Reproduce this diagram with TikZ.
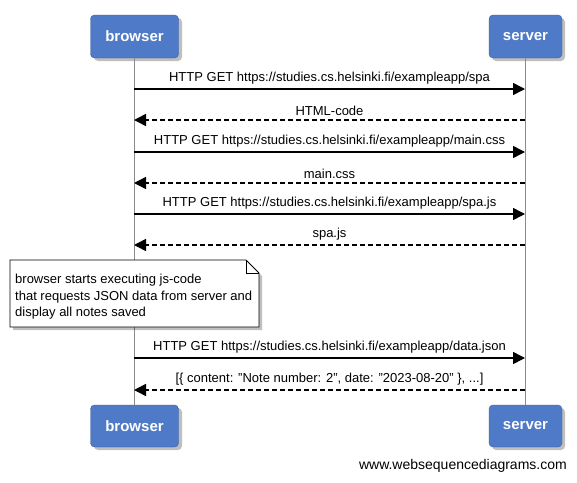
\documentclass[tikz,border=0pt]{standalone}
\usepackage{fontspec}
\setmainfont{Liberation Sans}
\usetikzlibrary{arrows.meta}

\definecolor{actorblue}{RGB}{79,122,199}
\definecolor{actorline}{RGB}{60,95,160}
\definecolor{lifegray}{RGB}{140,140,140}

\begin{document}
\begin{tikzpicture}[x=1pt, y=-1pt,
  actor/.style={rectangle, draw=actorline, fill=actorblue, rounded corners=4pt,
                minimum width=88pt, minimum height=43pt, text=white,
                font=\fontsize{15}{17}\selectfont\bfseries, inner sep=0pt},
  shade/.style={fill=black, opacity=0.25, rounded corners=4pt},
  life/.style={draw=lifegray, line width=1.6pt},
  req/.style={-{Triangle[length=12pt, width=12pt]}, line width=1.5pt, black},
  resp/.style={-{Triangle[length=12pt, width=12pt]}, line width=1.5pt, black, dash pattern=on 5pt off 3pt},
  lbl/.style={font=\fontsize{13}{15}\selectfont, above=3pt, inner sep=1pt},
  notetext/.style={font=\fontsize{13}{16.5}\selectfont, align=left, anchor=north west, inner sep=0pt}
]
\useasboundingbox[fill=white] (0,0) rectangle (577,482);

% ---- participants ----
\fill[shade] (94,18) rectangle (182,61);
\fill[shade] (492,18) rectangle (565,61);
\fill[shade] (94,408) rectangle (182,450);
\fill[shade] (492,408) rectangle (565,450);
\node[actor]                     (bt) at (134.5,36.5)  {browser};
\node[actor, minimum width=73pt] (st) at (525.5,36.5)  {server};
\node[actor, minimum height=42pt] (bb) at (134.5,426) {browser};
\node[actor, minimum width=73pt, minimum height=42pt] (sb) at (525.5,426) {server};

% ---- lifelines ----
\draw[life] (bt.south) -- (bb.north);
\draw[life] (st.south) -- (sb.north);

% ---- message rows ----
\coordinate (b1) at (134,89);  \coordinate (s1) at (525,89);
\coordinate (b2) at (134,120); \coordinate (s2) at (525,120);
\coordinate (b3) at (134,152); \coordinate (s3) at (525,152);
\coordinate (b4) at (134,183); \coordinate (s4) at (525,183);
\coordinate (b5) at (134,214); \coordinate (s5) at (525,214);
\coordinate (b6) at (134,245); \coordinate (s6) at (525,245);
\coordinate (b7) at (134,358); \coordinate (s7) at (525,358);
\coordinate (b8) at (134,390); \coordinate (s8) at (525,390);

\draw[req]  (b1) -- (s1) node[lbl, midway] (m1) {HTTP GET https://studies.cs.helsinki.fi/exampleapp/spa};
\draw[resp] (s2) -- (b2) node[lbl, midway] (m2) {HTML-code};
\draw[req]  (b3) -- (s3) node[lbl, midway] (m3) {HTTP GET https://studies.cs.helsinki.fi/exampleapp/main.css};
\draw[resp] (s4) -- (b4) node[lbl, midway] (m4) {main.css};
\draw[req]  (b5) -- (s5) node[lbl, midway] (m5) {HTTP GET https://studies.cs.helsinki.fi/exampleapp/spa.js};
\draw[resp] (s6) -- (b6) node[lbl, midway] (m6) {spa.js};
\draw[req]  (b7) -- (s7) node[lbl, midway] (m7) {HTTP GET https://studies.cs.helsinki.fi/exampleapp/data.json};
\draw[resp] (s8) -- (b8) node[lbl, midway] (m8) {[\{ content: "Note number: 2", date: "2023-08-20" \}, ...]};

% ---- note ----
\fill[black, opacity=0.25] (13,263) -- (249,263) -- (262,276) -- (262,330) -- (13,330) -- cycle;
\filldraw[fill=white, draw=black, line width=0.8pt]
  (10,260) -- (246,260) -- (259,273) -- (259,327) -- (10,327) -- cycle;
\draw[line width=0.8pt] (246,260) -- (246,273) -- (259,273);
\node[notetext] (note) at (15,274)
  {browser starts executing js-code\\that requests JSON data from server and\\display all notes saved};

% ---- watermark ----
\node[font=\fontsize{14}{16}\selectfont, anchor=east, inner sep=0pt] (wsd) at (567,466) {www.websequencediagrams.com};

\end{tikzpicture}
\end{document}
